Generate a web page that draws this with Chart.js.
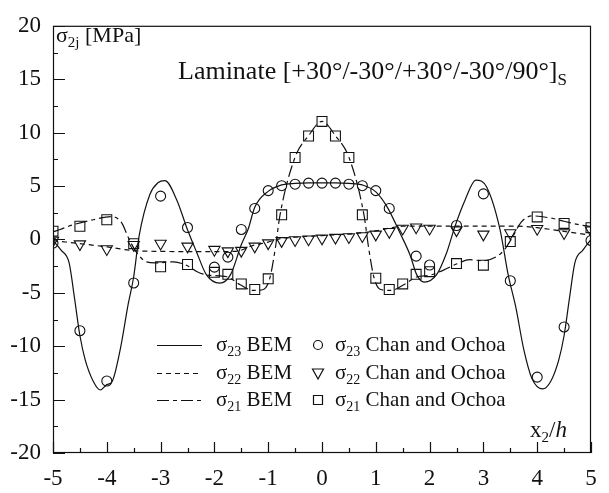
<!DOCTYPE html>
<html>
<head>
<meta charset="utf-8">
<script src="https://cdn.jsdelivr.net/npm/chart.js@4.4.1/dist/chart.umd.min.js"></script>
<style>
  body { margin: 0; background: #fff; }
  #wrap { width: 609px; height: 493px; position: relative; }
</style>
</head>
<body>
<div id="wrap"><canvas id="chart"></canvas></div>
<script>
// BEM curves
const bem23X = [-5,-4.85,-4.7,-4.6,-4.5,-4.4,-4.25,-4.12,-4.0,-3.9,-3.75,-3.6,-3.5,-3.4,-3.2,-3.05,-2.92,-2.7,-2.5,-2.33,-2.15,-1.9,-1.7,-1.5,-1.37,-1.25,-1.0,-0.75,-0.5,-0.25,0,0.25,0.5,0.75,1.0,1.21,1.45,1.64,1.76,1.9,2.13,2.32,2.47,2.66,2.86,3.06,3.31,3.46,3.6,3.75,3.9,4.1,4.25,4.4,4.5,4.6,4.7,4.85,5];
const bem23Y = [-0.1,-1.0,-2.2,-5.5,-9.0,-11.3,-13.3,-14.1,-13.6,-13.3,-10.3,-6.0,-3.5,0.3,4.2,5.3,5.5,3.7,0.9,-1.2,-3.3,-4.1,-3.3,-0.5,1.0,3.0,4.5,5.1,5.25,5.3,5.3,5.3,5.25,5.1,4.45,3.05,0.6,-1.5,-3.3,-4.0,-3.3,-1.2,1.2,3.7,5.55,4.9,0.9,-3.3,-6.3,-10.3,-13.0,-14.0,-13.3,-11.3,-9.0,-5.5,-2.2,-1.0,0];

const bem22X = [-5,-4.5,-4,-3.5,-3,-2.5,-2,-1.6,-1.3,-1.0,-0.75,-0.5,-0.25,0,0.25,0.5,0.75,1.0,1.25,1.5,2,2.5,3,3.6,4,4.5,5];
const bem22Y = [-0.1,-0.4,-0.7,-1.05,-1.12,-1.14,-1.14,-1.12,-0.6,-0.25,0.1,0.2,0.3,0.35,0.42,0.5,0.62,0.8,1.05,1.23,1.25,1.25,1.25,1.25,1.1,0.75,0.4];

const bem21X = [-5,-4.87,-4.62,-4.25,-3.91,-3.72,-3.6,-3.45,-3.26,-3.1,-2.76,-2.53,-2.33,-2.14,-1.77,-1.52,-1.28,-1.09,-0.97,-0.87,-0.78,-0.5,-0.25,0,0.25,0.5,0.78,0.87,0.97,1.09,1.28,1.52,1.77,2.0,2.25,2.5,2.75,3.0,3.25,3.4,3.55,3.7,3.9,4.25,4.5,4.75,5];
const bem21Y = [0.7,0.93,1.38,1.84,2.14,1.53,0.17,-1.2,-2.1,-2.2,-2.1,-2.4,-3.0,-3.33,-3.5,-4.24,-4.78,-4.69,-3.63,-0.9,2.3,7.7,9.7,11.05,9.7,7.7,2.3,-0.9,-3.63,-4.69,-4.78,-4.24,-3.5,-3.35,-2.9,-2.3,-1.9,-2.0,-1.6,-0.9,0.3,1.6,2.2,2.0,1.7,1.4,1.2];

// Chan and Ochoa points
const chan23X = [-5,-4.5,-4,-3.5,-3,-2.5,-2,-1.75,-1.5,-1.25,-1,-0.75,-0.5,-0.25,0,0.25,0.5,0.75,1,1.25,1.75,2,2.5,3,3.5,4,4.5,5];
const chan23Y = [-0.35,-8.55,-13.26,-4.08,4.05,1.11,-2.6,-1.66,0.93,2.9,4.57,5.03,5.17,5.27,5.27,5.27,5.17,5.03,4.57,2.9,-1.57,-2.4,1.3,4.26,-3.87,-12.9,-8.2,-0.1];

const chan22X = [-5,-4.5,-4,-3.5,-3,-2.5,-2,-1.75,-1.5,-1.25,-1,-0.75,-0.5,-0.25,0,0.25,0.5,0.75,1,1.25,1.5,1.75,2,2.5,3,3.5,4,4.5,5];
const chan22Y = [-0.1,-0.44,-0.9,-0.5,-0.38,-0.65,-0.96,-1.1,-1.05,-0.65,-0.35,-0.14,-0.05,0.02,0.1,0.17,0.23,0.32,0.47,0.71,1.02,1.14,1.02,0.87,0.47,0.6,1.0,0.6,0.85];

const chan21X = [-5,-4.5,-4,-3.5,-3,-2.5,-2,-1.75,-1.5,-1.25,-1,-0.75,-0.5,-0.25,0,0.25,0.5,0.75,1,1.25,1.5,1.75,2,2.5,3,3.5,4,4.5,5];
const chan21Y = [0.77,1.23,1.84,-0.4,-2.57,-2.35,-3.08,-3.27,-4.17,-4.69,-3.69,2.3,7.67,9.68,11.05,9.68,7.67,2.3,-3.63,-4.69,-4.17,-3.27,-3.02,-2.26,-2.41,-0.2,2.1,1.5,1.1];

const FONT = "'Liberation Serif', 'Times New Roman', serif";
const INK = '#111';

function pts(xs, ys) {
    return xs.map((x, i) => ({ x: x, y: ys[i] }));
}

function lineSet(xs, ys, dash) {
    return {
        data: pts(xs, ys), showLine: true, pointRadius: 0,
        borderColor: INK, borderWidth: 1.2, borderDash: dash,
        cubicInterpolationMode: 'monotone'
    };
}

function markSet(xs, ys, style, r, rot) {
    return {
        data: pts(xs, ys), showLine: false, pointStyle: style,
        pointRadius: r, pointRotation: rot || 0,
        pointBorderColor: INK, pointBackgroundColor: 'rgba(0,0,0,0)',
        pointBorderWidth: 1.1
    };
}

// text with subscripts: parts = [[text, 'n'|'s'|'i']]
function rich(ctx, x, y, parts, size) {
    ctx.textBaseline = 'alphabetic';
    ctx.textAlign = 'left';
    for (const [t, k] of parts) {
        if (k === 's') {
            ctx.font = Math.round(size * 0.66) + 'px ' + FONT;
            ctx.fillText(t, x, y + size * 0.22);
        } else {
            ctx.font = (k === 'i' ? 'italic ' : '') + size + 'px ' + FONT;
            ctx.fillText(t, x, y);
        }
        x += ctx.measureText(t).width;
    }
}

const decor = {
    id: 'decor',
    afterDraw(chart) {
        const ctx = chart.ctx, a = chart.chartArea;
        const sx = chart.scales.x, sy = chart.scales.y;
        ctx.save();
        ctx.strokeStyle = INK;
        ctx.lineWidth = 1.2;
        ctx.strokeRect(a.left + 0.5, a.top + 0.5, a.right - a.left - 1, a.bottom - a.top - 1);
        ctx.beginPath();
        for (let v = -5; v <= 5; v += 0.5) {
            const px = Math.round(sx.getPixelForValue(v)) + 0.5;
            const len = Number.isInteger(v) ? 11 : 5;
            ctx.moveTo(px, a.bottom); ctx.lineTo(px, a.bottom - len);
        }
        for (let v = -20; v <= 20; v += 2.5) {
            const py = Math.round(sy.getPixelForValue(v)) + 0.5;
            const len = v % 5 === 0 ? 12 : 5;
            ctx.moveTo(a.left, py); ctx.lineTo(a.left + len, py);
        }
        ctx.stroke();

        ctx.fillStyle = INK;
        rich(ctx, 56, 42, [['σ', 'n'], ['2j', 's'], [' [MPa]', 'n']], 22);
        rich(ctx, 178, 79, [['Laminate [+30°/-30°/+30°/-30°/90°]', 'n'], ['S', 's']], 26);
        rich(ctx, 530, 437, [['x', 'n'], ['2', 's'], ['/', 'n'], ['h', 'i']], 23);

        // legend
        const rows = [
            { y: 344, name: '23', dash: [], mark: 0 },
            { y: 372, name: '22', dash: [5, 4], mark: 1 },
            { y: 399, name: '21', dash: [12, 4, 4, 4], mark: 2 }
        ];
        for (const r of rows) {
            ctx.setLineDash(r.dash);
            ctx.beginPath();
            ctx.moveTo(157, r.y + 1.5); ctx.lineTo(202, r.y + 1.5);
            ctx.stroke();
            ctx.setLineDash([]);
            rich(ctx, 216, r.y + 7, [['σ', 'n'], [r.name, 's'], [' BEM', 'n']], 21);
            rich(ctx, 335, r.y + 7, [['σ', 'n'], [r.name, 's'], [' Chan and Ochoa', 'n']], 21);
            ctx.beginPath();
            const cx = 318, cy = r.y + 1;
            if (r.mark === 0) {
                ctx.arc(cx, cy, 4.5, 0, Math.PI * 2);
            } else if (r.mark === 1) {
                ctx.moveTo(cx - 5.5, cy - 4); ctx.lineTo(cx + 5.5, cy - 4); ctx.lineTo(cx, cy + 6); ctx.closePath();
            } else {
                ctx.rect(cx - 4.5, cy - 4.5, 9, 9);
            }
            ctx.stroke();
        }
        ctx.restore();
    }
};

new Chart(document.getElementById('chart'), {
    type: 'scatter',
    data: {
        datasets: [
            lineSet(bem23X, bem23Y, []),
            lineSet(bem22X, bem22Y, [5, 4]),
            lineSet(bem21X, bem21Y, [12, 4, 4, 4]),
            markSet(chan23X, chan23Y, 'circle', 5),
            markSet(chan22X, chan22Y, 'triangle', 6.5, 180),
            markSet(chan21X, chan21Y, 'rect', 7)
        ]
    },
    options: {
        responsive: true,
        maintainAspectRatio: false,
        animation: false,
        layout: { padding: { left: 0, top: 14, right: 18, bottom: 0 } },
        plugins: { legend: { display: false }, tooltip: { enabled: false } },
        scales: {
            x: {
                type: 'linear', min: -5, max: 5,
                grid: { display: false, drawTicks: false },
                border: { display: false },
                ticks: { stepSize: 1, padding: 12, color: INK, font: { family: FONT, size: 23 } },
                afterFit: (s) => { s.height = 40; }
            },
            y: {
                type: 'linear', min: -20, max: 20,
                grid: { display: false, drawTicks: false },
                border: { display: false },
                ticks: { stepSize: 5, padding: 12, color: INK, font: { family: FONT, size: 23 } },
                afterFit: (s) => { s.width = 53; }
            }
        }
    },
    plugins: [decor]
});
</script>
</body>
</html>
